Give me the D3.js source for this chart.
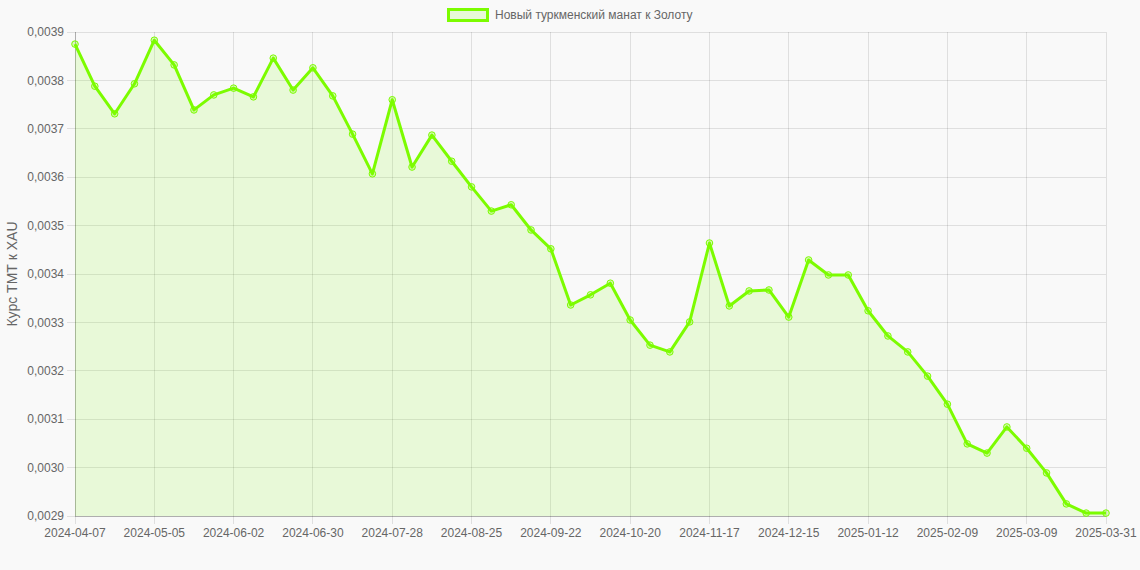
<!DOCTYPE html>
<html>
<head>
<meta charset="utf-8">
<script src="https://cdn.jsdelivr.net/npm/d3@7"></script>
<style>
  body { margin: 0; background: #f9f9f9; }
  svg { display: block; font-family: "Liberation Sans", Arial, Helvetica, sans-serif; }
</style>
</head>
<body>
<div id="chart"></div>
<script>
// Fechas (eje X, categorías)
const dates = [
  "2024-04-07","2024-04-14","2024-04-21","2024-04-28","2024-05-05","2024-05-12","2024-05-19","2024-05-26",
  "2024-06-02","2024-06-09","2024-06-16","2024-06-23","2024-06-30","2024-07-07","2024-07-14","2024-07-21",
  "2024-07-28","2024-08-04","2024-08-11","2024-08-18","2024-08-25","2024-09-01","2024-09-08","2024-09-15",
  "2024-09-22","2024-09-29","2024-10-06","2024-10-13","2024-10-20","2024-10-27","2024-11-03","2024-11-10",
  "2024-11-17","2024-11-24","2024-12-01","2024-12-08","2024-12-15","2024-12-22","2024-12-29","2025-01-05",
  "2025-01-12","2025-01-19","2025-01-26","2025-02-02","2025-02-09","2025-02-16","2025-02-23","2025-03-02",
  "2025-03-09","2025-03-16","2025-03-23","2025-03-30","2025-03-31"
];

// Valores TMT -> XAU
const values = [
  0.003875, 0.003788, 0.003731, 0.003793, 0.003883, 0.003832, 0.003739, 0.003770,
  0.003784, 0.003766, 0.003846, 0.003780, 0.003826, 0.003768, 0.003689, 0.003607,
  0.003760, 0.003621, 0.003687, 0.003633, 0.003580, 0.003530, 0.003543, 0.003491,
  0.003452, 0.003336, 0.003357, 0.003381, 0.003305, 0.003253, 0.003239, 0.003301,
  0.003464, 0.003334, 0.003365, 0.003367, 0.003311, 0.003429, 0.003398, 0.003398,
  0.003324, 0.003272, 0.003239, 0.003189, 0.003131, 0.003049, 0.003030, 0.003084,
  0.003040, 0.002989, 0.002925, 0.002906, 0.002906
];

// Ticks del eje Y
const yTicks = [0.0029, 0.0030, 0.0031, 0.0032, 0.0033, 0.0034, 0.0035, 0.0036, 0.0037, 0.0038, 0.0039];

const seriesLabel = "Новый туркменский манат к Золоту";
const yTitle = "Курс ТМТ к XAU";

const lineColor = "#7cfc00";
const fillColor = "rgba(124,252,0,0.13)";
const gridColor = "rgba(0,0,0,0.1)";
const textColor = "#666";

const W = 1140, H = 570;
const margin = { top: 32, right: 34, bottom: 54, left: 75 };
const width = W - margin.left - margin.right;
const height = H - margin.top - margin.bottom;

const svg = d3.select("#chart")
  .append("svg")
  .attr("width", W)
  .attr("height", H);

const g = svg.append("g")
  .attr("transform", `translate(${margin.left},${margin.top})`);

const xScale = d3.scalePoint()
  .domain(dates)
  .range([0, width]);

const yScale = d3.scaleLinear()
  .domain([0.0029, 0.0039])
  .range([height, 0]);

const shownDates = dates.filter((d, i) => i % 4 === 0);

// Rejilla horizontal
g.append("g")
  .selectAll("line")
  .data(yTicks)
  .join("line")
  .attr("x1", -8)
  .attr("x2", width)
  .attr("y1", d => yScale(d))
  .attr("y2", d => yScale(d))
  .attr("stroke", gridColor)
  .attr("shape-rendering", "crispEdges");

// Rejilla vertical
g.append("g")
  .selectAll("line")
  .data(shownDates)
  .join("line")
  .attr("x1", d => xScale(d))
  .attr("x2", d => xScale(d))
  .attr("y1", 0)
  .attr("y2", height + 8)
  .attr("stroke", gridColor)
  .attr("shape-rendering", "crispEdges");

// Líneas de eje
g.append("line")
  .attr("x1", 0).attr("x2", 0).attr("y1", 0).attr("y2", height)
  .attr("stroke", "rgba(0,0,0,0.22)")
  .attr("shape-rendering", "crispEdges");
g.append("line")
  .attr("x1", 0).attr("x2", width).attr("y1", height).attr("y2", height)
  .attr("stroke", "rgba(0,0,0,0.22)")
  .attr("shape-rendering", "crispEdges");

// Área
const area = d3.area()
  .x(d => xScale(d.date))
  .y0(yScale(0.0029))
  .y1(d => yScale(d.value));

const data = dates.map((d, i) => ({ date: d, value: values[i] }));

g.append("path")
  .datum(data)
  .attr("d", area)
  .attr("fill", fillColor);

// Línea
const line = d3.line()
  .x(d => xScale(d.date))
  .y(d => yScale(d.value));

g.append("path")
  .datum(data)
  .attr("d", line)
  .attr("fill", "none")
  .attr("stroke", lineColor)
  .attr("stroke-width", 3)
  .attr("stroke-linejoin", "round");

// Puntos
g.append("g")
  .selectAll("circle")
  .data(data)
  .join("circle")
  .attr("cx", d => xScale(d.date))
  .attr("cy", d => yScale(d.value))
  .attr("r", 3.3)
  .attr("fill", "rgba(124,252,0,0.25)")
  .attr("stroke", lineColor)
  .attr("stroke-width", 1);

// Etiquetas eje Y
const fmt = d => d.toFixed(4).replace(".", ",");
g.append("g")
  .selectAll("text")
  .data(yTicks)
  .join("text")
  .attr("x", -11)
  .attr("y", d => yScale(d))
  .attr("dy", "0.35em")
  .attr("text-anchor", "end")
  .attr("fill", textColor)
  .attr("font-size", 12)
  .text(fmt);

// Etiquetas eje X
g.append("g")
  .selectAll("text")
  .data(shownDates)
  .join("text")
  .attr("x", d => xScale(d))
  .attr("y", height + 21)
  .attr("text-anchor", "middle")
  .attr("fill", textColor)
  .attr("font-size", 12)
  .text(d => d);

// Título eje Y
svg.append("text")
  .attr("transform", `translate(17,${margin.top + height / 2}) rotate(-90)`)
  .attr("text-anchor", "middle")
  .attr("fill", textColor)
  .attr("font-size", 14)
  .text(yTitle);

// Leyenda
const legend = svg.append("g");
legend.append("text")
  .attr("x", 495)
  .attr("y", 15)
  .attr("dy", "0.35em")
  .attr("fill", textColor)
  .attr("font-size", 12)
  .text(seriesLabel);
legend.append("rect")
  .attr("x", 448.5)
  .attr("y", 9.5)
  .attr("width", 39)
  .attr("height", 11)
  .attr("fill", fillColor)
  .attr("stroke", lineColor)
  .attr("stroke-width", 3);
</script>
</body>
</html>
